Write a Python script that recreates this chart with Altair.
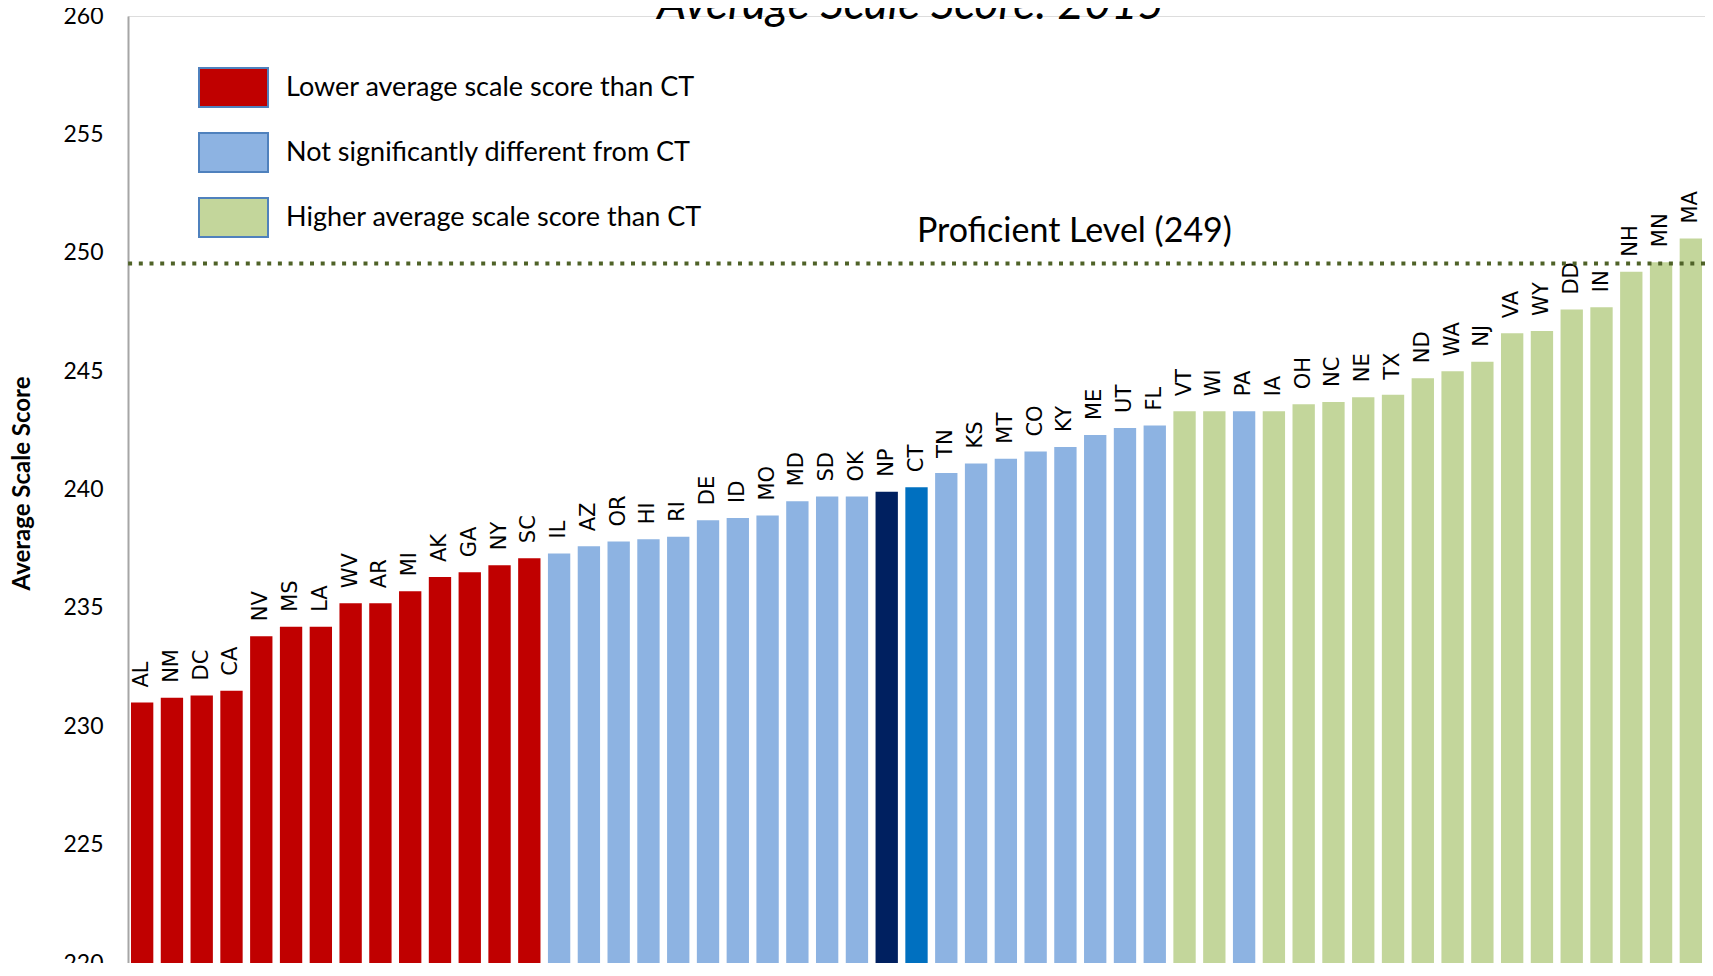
import altair as alt
import pandas as pd

states = ["AL", "NM", "DC", "CA", "NV", "MS", "LA", "WV", "AR", "MI", "AK", "GA", "NY", "SC",
          "IL", "AZ", "OR", "HI", "RI", "DE", "ID", "MO", "MD", "SD", "OK", "NP", "CT", "TN", "KS",
          "MT", "CO", "KY", "ME", "UT", "FL",
          "VT", "WI", "PA", "IA", "OH", "NC", "NE", "TX", "ND", "WA", "NJ", "VA", "WY", "DD", "IN",
          "NH", "MN", "MA"]
scores = [231.0, 231.2, 231.3, 231.5, 233.8, 234.2, 234.2, 235.2, 235.2, 235.7, 236.3, 236.5, 236.8, 237.1,
          237.3, 237.6, 237.8, 237.9, 238.0, 238.7, 238.8, 238.9, 239.5, 239.7, 239.7, 239.9, 240.1, 240.7, 241.1,
          241.3, 241.6, 241.8, 242.3, 242.6, 242.7,
          243.3, 243.3, 243.3, 243.3, 243.6, 243.7, 243.9, 244.0, 244.7, 245.0, 245.4, 246.6, 246.7, 247.6, 247.7,
          249.2, 249.6, 250.6]
# L = lower, S = not significantly different, H = higher, N = national public, C = Connecticut
group_codes = ["L"] * 14 + ["S"] * 11 + ["N", "C"] + ["S"] * 8 + ["H", "H", "S"] + ["H"] * 15

group_names = {
    "L": "Lower average scale score than CT",
    "S": "Not significantly different from CT",
    "H": "Higher average scale score than CT",
    "N": "National Public",
    "C": "Connecticut",
}
color_domain = [group_names[k] for k in ["L", "S", "H", "N", "C"]]
color_range = ["#C00000", "#8DB3E2", "#C3D69B", "#002060", "#0070C0"]
legend_values = color_domain[:3]

y_ticks = [220, 225, 230, 235, 240, 245, 250, 255, 260]
proficient_level = 249.55
proficient_label = "Proficient Level (249)"
title_text = "Average Scale Score: 2015"

df = pd.DataFrame({
    "state": states,
    "score": scores,
    "group": [group_names[g] for g in group_codes],
})
df_level = pd.DataFrame({"level": [proficient_level], "label": [proficient_label], "at": ["KY"]})
df_title = pd.DataFrame({"label": [title_text], "at": ["NP"]})

x_scale = alt.Scale(domain=states, paddingInner=0.25, paddingOuter=0.1)
y_scale = alt.Scale(domain=[220, 260], nice=False, zero=False)

bars = alt.Chart(df).mark_bar().encode(
    x=alt.X("state:N", scale=x_scale, axis=None),
    y=alt.Y("score:Q", scale=y_scale,
            axis=alt.Axis(values=y_ticks, title="Average Scale Score", grid=False, ticks=False,
                          domainColor="#A6A6A6", domainWidth=2,
                          labelFont="Lato", labelFontSize=23, labelColor="black", labelPadding=25,
                          titleFont="Lato", titleFontSize=24, titleFontWeight="bold", titleColor="black",
                          titleX=-106, titleY=467, titleBaseline="middle", titleAngle=270)),
    color=alt.Color("group:N", scale=alt.Scale(domain=color_domain, range=color_range),
                    legend=alt.Legend(orient="none", legendX=70, legendY=36, title=None,
                                      values=legend_values,
                                      symbolType="M-1,-0.565H1V0.565H-1Z", symbolSize=4761,
                                      symbolStrokeColor="#4F81BD", symbolStrokeWidth=2, symbolOpacity=1,
                                      labelFont="Lato", labelFontSize=27, labelColor="black",
                                      labelOffset=17, rowPadding=6, padding=0, labelLimit=0)),
)

labels = alt.Chart(df).mark_text(angle=270, align="left", baseline="middle", dx=15,
                                 font="DejaVu Sans", fontSize=21, color="black").encode(
    x=alt.X("state:N", scale=x_scale, axis=None),
    y=alt.Y("score:Q", scale=y_scale),
    text="state:N",
)

rule = alt.Chart(df_level).mark_rule(color="#4F6228", strokeWidth=4, strokeDash=[4, 6.7]).encode(
    y=alt.Y("level:Q", scale=y_scale),
)

level_text = alt.Chart(df_level).mark_text(font="Lato", fontSize=34, color="black", align="center",
                                           baseline="alphabetic", dx=9, dy=-21).encode(
    x=alt.X("at:N", scale=x_scale, axis=None),
    y=alt.Y("level:Q", scale=y_scale),
    text="label:N",
)

title = alt.Chart(df_title).mark_text(font="Lato", fontSize=46, fontStyle="italic", color="black",
                                      align="center", baseline="alphabetic", dx=24).encode(
    x=alt.X("at:N", scale=x_scale, axis=None),
    y=alt.value(3),
    text="label:N",
)

chart = alt.layer(bars, labels, rule, level_text, title).properties(
    width=1577,
    height=947,
    autosize=alt.AutoSizeParams(type="none"),
    padding={"left": 120, "top": 8, "right": 0, "bottom": 0},
).configure_view(stroke=None).configure(background="white")

chart.save("out.html", embed_options={"renderer": "svg", "actions": False})
